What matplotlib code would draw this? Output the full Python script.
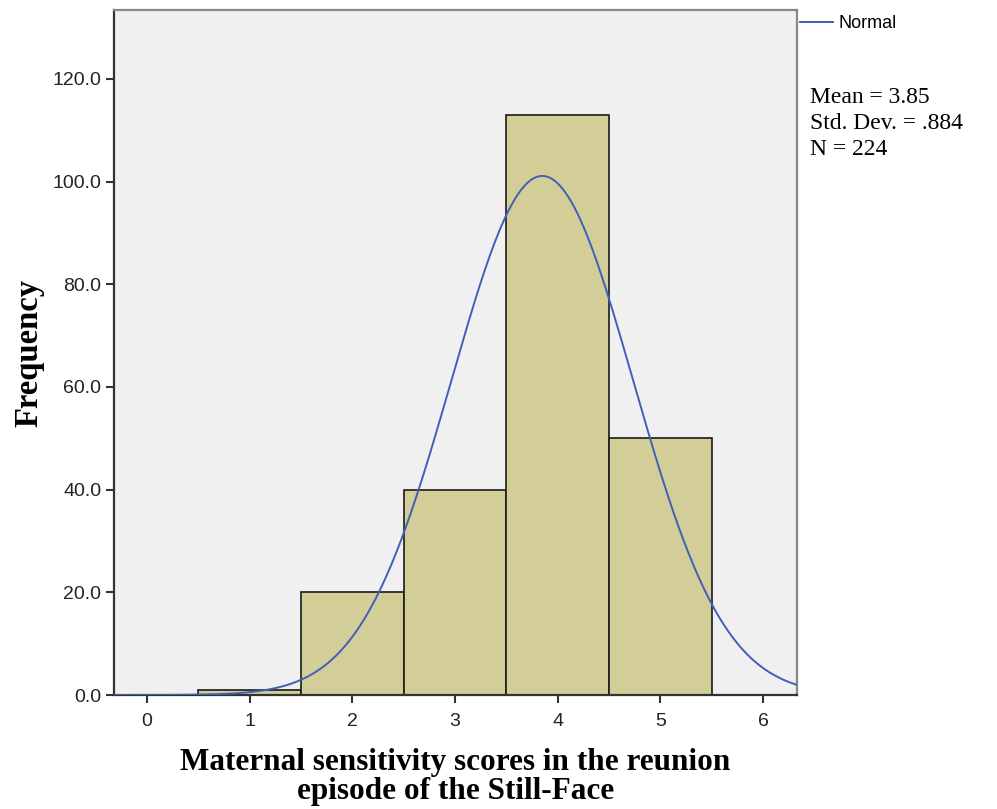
import numpy as np
import matplotlib
matplotlib.use('Agg')
import matplotlib.pyplot as plt

# histogram data (SPSS output)
bin_centers = [1, 2, 3, 4, 5]
counts = [1, 20, 40, 113, 50]
mean = 3.85
sd = 0.884
n = 224

fig = plt.figure(figsize=(9.97, 8.09), dpi=100)
ax = fig.add_axes([0.1143, 0.1409, 0.6851, 0.8467])
ax.set_facecolor('#f0f0f0')

ax.bar(bin_centers, counts, width=1.0, color='#d3ce98', edgecolor='#1a1a1a', linewidth=1.2, zorder=2)

# normal curve scaled to counts (bin width 1)
xs = np.linspace(-0.32, 6.33, 400)
ys = n * 1.0 / (sd * np.sqrt(2 * np.pi)) * np.exp(-0.5 * ((xs - mean) / sd) ** 2)
ax.plot(xs, ys, color='#4060b8', linewidth=1.4, zorder=3)

ax.set_xlim(-0.32, 6.33)
ax.set_ylim(0, 133.4)
ax.set_xticks(range(0, 7))
ax.set_yticks(range(0, 121, 20))
ax.set_yticklabels(['%.1f' % v for v in range(0, 121, 20)])
ax.tick_params(direction='out', length=6, width=1.5, colors='#333333', labelsize=14,
               labelcolor='#222222')
ax.tick_params(axis='x', pad=7)
ax.tick_params(axis='y', pad=3)
for lbl in ax.get_xticklabels() + ax.get_yticklabels():
    lbl.set_family('Liberation Sans')
for s in ax.spines.values():
    s.set_linewidth(1.6)
    s.set_color('#333333')
ax.spines['top'].set_color('#888888')
ax.spines['right'].set_color('#888888')

ax.set_xlabel('Maternal sensitivity scores in the reunion\nepisode of the Still-Face',
              family='Liberation Serif', fontweight='bold', fontsize=22.5, linespacing=1.02)
ax.xaxis.set_label_coords(0.5, -0.077)
ax.set_ylabel('Frequency', family='Liberation Serif', fontweight='bold', fontsize=23.5, labelpad=6)

# legend line + text outside axes
fig.lines.append(plt.Line2D([800 / 997, 833 / 997], [1 - 22 / 809, 1 - 22 / 809],
                            color='#4060b8', linewidth=1.4, transform=fig.transFigure))
fig.text(838 / 997, 1 - 23 / 809, 'Normal', family='Liberation Sans', fontsize=13,
         va='center', ha='left')

fig.text(810 / 997, 1 - 87 / 809,
         'Mean = %.2f\nStd. Dev. = %s\nN = %d' % (mean, ('%.3f' % sd)[1:], n),
         family='Liberation Serif', fontsize=17, va='top', ha='left', linespacing=1.3)

fig.savefig('out.png', dpi=100)
